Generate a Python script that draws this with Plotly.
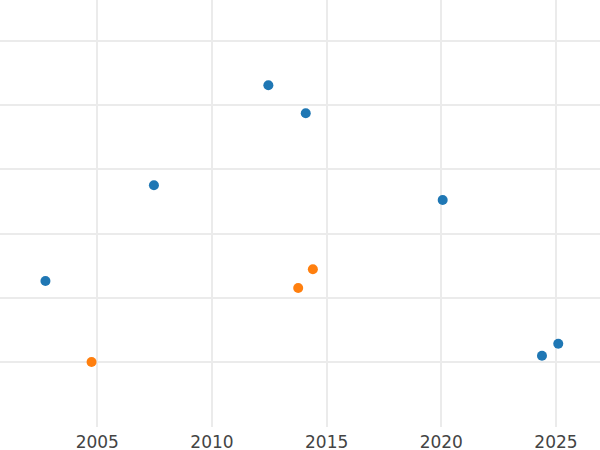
import plotly.graph_objects as go

blue_x = [2002.74, 2007.47, 2012.46, 2014.09, 2020.06, 2024.39, 2025.10]
blue_y = [1.264, 2.752, 4.307, 3.871, 2.523, 0.103, 0.289]
orange_x = [2004.75, 2013.76, 2014.40]
orange_y = [0.005, 1.155, 1.446]
x_ticks = [2005, 2010, 2015, 2020, 2025]
y_ticks = [0, 1, 2, 3, 4, 5]

fig = go.Figure()
fig.add_trace(go.Scatter(x=blue_x, y=blue_y, mode="markers",
                         marker=dict(color="#1f77b4", size=10), showlegend=False))
fig.add_trace(go.Scatter(x=orange_x, y=orange_y, mode="markers",
                         marker=dict(color="#ff7f0e", size=10), showlegend=False))
fig.update_layout(
    width=600, height=450,
    margin=dict(l=0, r=0, t=0, b=23),
    paper_bgcolor="white", plot_bgcolor="white",
    font=dict(family="DejaVu Sans", size=17, color="#444444"),
)
fig.update_xaxes(range=[2000.758, 2026.92], tickvals=x_ticks,
                 ticktext=[str(t) for t in x_ticks], automargin=False,
                 showgrid=True, gridcolor="#ebebeb", gridwidth=1.5,
                 zeroline=False, showline=False, ticks="", ticklabelstandoff=3)
fig.update_yaxes(range=[-1.006, 5.633], tickvals=y_ticks, showticklabels=False,
                 automargin=False,
                 showgrid=True, gridcolor="#ebebeb", gridwidth=1.5,
                 zeroline=False, showline=False, ticks="")
fig.write_html("out.html", config={"displayModeBar": False},
               post_script="document.body.style.margin='0';document.body.style.overflow='hidden';")
